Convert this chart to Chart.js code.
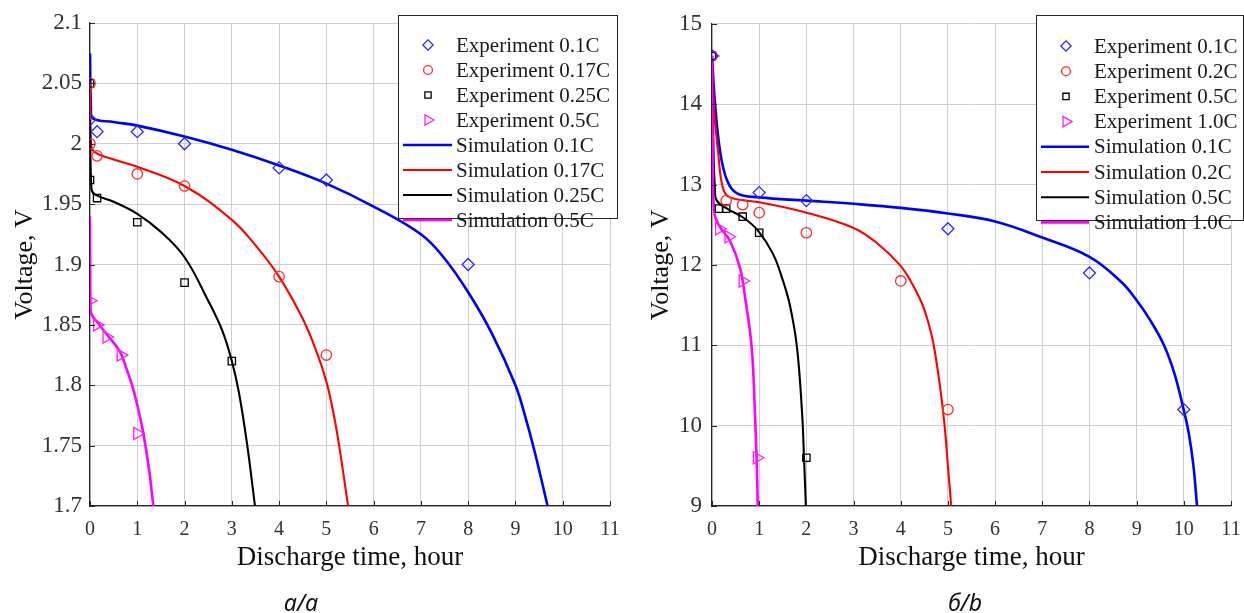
<!DOCTYPE html>
<html>
<head>
<meta charset="utf-8">
<script src="https://cdn.jsdelivr.net/npm/chart.js@4.4.1/dist/chart.umd.min.js"></script>
<style>
  body { margin: 0; background: #fff; }
  .panel { position: absolute; top: 0; width: 622px; height: 613px; }
</style>
</head>
<body>
<div class="panel" style="left:0"><canvas id="chartA" width="622" height="613"></canvas></div>
<div class="panel" style="left:622px"><canvas id="chartB" width="622" height="613"></canvas></div>
<script>
// ---- panel a: voltage vs discharge time ----
const labelsA = ['Experiment 0.1C', 'Experiment 0.17C', 'Experiment 0.25C', 'Experiment 0.5C',
                 'Simulation 0.1C', 'Simulation 0.17C', 'Simulation 0.25C', 'Simulation 0.5C']
const expA01 = [[0, 2.02], [0.15, 2.01], [1, 2.01], [2, 2.0], [4, 1.98], [5, 1.97], [8, 1.9]]
const expA017 = [[0, 2.05], [0, 2.0], [0.15, 1.99], [1, 1.975], [2, 1.965], [4, 1.89], [5, 1.825]]
const expA025 = [[0, 2.05], [0, 1.97], [0.15, 1.955], [1, 1.935], [2, 1.885], [3, 1.82]]
const expA05 = [[0, 1.87], [0.15, 1.85], [0.35, 1.84], [0.65, 1.825], [1, 1.76]]
const simA01 = [[0, 2.075], [0.02, 2.03], [0.06, 2.021], [0.5, 2.018], [1, 2.015], [2, 2.006], [3, 1.995],
                [4, 1.982], [5, 1.967], [6, 1.948], [7, 1.925], [7.5, 1.905], [8, 1.877], [8.5, 1.843],
                [9, 1.800], [9.2, 1.775], [9.4, 1.746], [9.68, 1.70]]
const simA017 = [[0, 2.05], [0.02, 2.0], [0.1, 1.993], [0.5, 1.987], [1, 1.981], [2, 1.965], [3, 1.937],
                 [3.5, 1.916], [4, 1.89], [4.5, 1.855], [4.8, 1.827], [5, 1.803], [5.15, 1.777],
                 [5.27, 1.75], [5.46, 1.70]]
const simA025 = [[0, 2.02], [0.03, 1.963], [0.1, 1.958], [0.5, 1.952], [1, 1.942], [1.5, 1.927], [2, 1.906],
                 [2.5, 1.87], [2.8, 1.845], [3, 1.82], [3.15, 1.794], [3.32, 1.752], [3.49, 1.70]]
const simA05 = [[0, 1.94], [0.01, 1.862], [0.2, 1.85], [0.4, 1.84], [0.63, 1.828], [0.77, 1.814],
                [0.92, 1.796], [1.05, 1.775], [1.13, 1.76], [1.25, 1.73], [1.34, 1.70]]

// ---- panel b ----
const labelsB = ['Experiment 0.1C', 'Experiment 0.2C', 'Experiment 0.5C', 'Experiment 1.0C',
                 'Simulation 0.1C', 'Simulation 0.2C', 'Simulation 0.5C', 'Simulation 1.0C']
const expB01 = [[0, 14.6], [1, 12.9], [2, 12.8], [5, 12.45], [8, 11.9], [10, 10.2]]
const expB02 = [[0, 14.6], [0.3, 12.8], [0.65, 12.75], [1, 12.65], [2, 12.4], [4, 11.8], [5, 10.2]]
const expB05 = [[0, 14.6], [0.15, 12.7], [0.3, 12.7], [0.65, 12.6], [1, 12.4], [2, 9.6]]
const expB10 = [[0, 14.6], [0.15, 12.45], [0.35, 12.35], [0.65, 11.8], [0.95, 9.6]]
const simB01 = [[0, 14.6], [0.06, 14.04], [0.17, 13.42], [0.32, 13.05], [0.53, 12.89], [1, 12.84], [2, 12.8],
                [3, 12.76], [4, 12.71], [5, 12.64], [6, 12.54], [7, 12.34], [8, 12.1], [8.67, 11.79],
                [9, 11.56], [9.3, 11.3], [9.58, 11.0], [9.8, 10.65], [10, 10.19], [10.1, 9.92],
                [10.2, 9.52], [10.28, 9.0]]
const simB02 = [[0, 14.6], [0.05, 13.9], [0.13, 13.4], [0.23, 12.96], [0.38, 12.84], [1, 12.78], [2, 12.65],
                [3, 12.46], [3.5, 12.27], [3.98, 12.0], [4.2, 11.81], [4.45, 11.52], [4.6, 11.25], [4.7, 11.0],
                [4.83, 10.5], [4.93, 10.0], [5.0, 9.5], [5.07, 9.0]]
const simB05 = [[0, 14.6], [0.03, 13.5], [0.06, 12.96], [0.1, 12.8], [0.32, 12.7], [0.66, 12.59], [0.97, 12.43],
                [1.29, 12.14], [1.5, 11.81], [1.65, 11.5], [1.8, 10.98], [1.91, 10.15], [1.95, 9.6], [1.99, 9.0]]
const simB10 = [[0, 14.6], [0.02, 13.3], [0.05, 12.65], [0.17, 12.47], [0.38, 12.3], [0.59, 11.97], [0.7, 11.6],
                [0.84, 10.98], [0.91, 10.15], [0.95, 9.5], [0.97, 9.0]]

const xTicks = [0, 1, 2, 3, 4, 5, 6, 7, 8, 9, 10, 11]

const lineColors = ['#0000ff', '#ff0000', '#000000', '#ff00ff']
const markColors = ['#2b2bff', '#ff2b2b', '#000000', '#ff1fff']
const markStyles = [
  { pointStyle: 'rectRot', pointRadius: 6, pointRotation: 0 },
  { pointStyle: 'circle', pointRadius: 5.2, pointRotation: 0 },
  { pointStyle: 'rect', pointRadius: 5.2, pointRotation: 0 },
  { pointStyle: 'triangle', pointRadius: 7, pointRotation: 90 }
]

const serif = "'Liberation Serif', 'Times New Roman', serif"

// draws the boxed legend, the inward ticks and the panel caption
const extras = {
  id: 'extras',
  afterDraw(chart, args, o) {
    const ctx = chart.ctx
    const {left, bottom} = chart.chartArea
    ctx.save()
    // inward tick marks
    ctx.strokeStyle = '#262626'
    ctx.lineWidth = 1
    chart.scales.x.ticks.forEach(t => {
      const px = Math.round(chart.scales.x.getPixelForValue(t.value)) + 0.5
      ctx.beginPath(); ctx.moveTo(px, bottom); ctx.lineTo(px, bottom - 5); ctx.stroke()
    })
    chart.scales.y.ticks.forEach(t => {
      const py = Math.round(chart.scales.y.getPixelForValue(t.value)) + 0.5
      ctx.beginPath(); ctx.moveTo(left, py); ctx.lineTo(left + 5, py); ctx.stroke()
    })
    // legend box
    ctx.fillStyle = '#fff'
    ctx.fillRect(o.x, o.y, o.w, o.h)
    ctx.strokeStyle = '#262626'
    ctx.strokeRect(o.x + 0.5, o.y + 0.5, o.w, o.h)
    ctx.font = '21px ' + serif
    ctx.textBaseline = 'middle'
    ctx.textAlign = 'left'
    chart.data.datasets.forEach((ds, i) => {
      const y = o.y + o.first + i * o.step
      if (ds.showLine === false) {
        ctx.strokeStyle = ds.borderColor
        ctx.fillStyle = 'rgba(0,0,0,0)'
        ctx.lineWidth = 1.3
        Chart.helpers.drawPoint(ctx, {
          pointStyle: ds.pointStyle, radius: ds.pointRadius * 0.85,
          rotation: ds.pointRotation, borderWidth: 1.3
        }, o.mark, y)
      } else {
        ctx.strokeStyle = ds.borderColor
        ctx.lineWidth = ds.borderWidth
        ctx.beginPath(); ctx.moveTo(o.lineFrom, y); ctx.lineTo(o.lineTo, y); ctx.stroke()
      }
      ctx.fillStyle = '#1a1a1a'
      ctx.fillText(ds.label, o.text, y + 1)
    })
    // caption
    ctx.font = 'italic 23px "Noto Sans", sans-serif'
    ctx.textAlign = 'center'
    ctx.textBaseline = 'alphabetic'
    ctx.fillStyle = '#111'
    ctx.fillText(o.caption, o.capX, 611)
    ctx.restore()
  }
}

function buildDatasets(labels, expSets, simSets) {
  const sets = []
  expSets.forEach((d, i) => {
    sets.push(Object.assign({
      label: labels[i], data: d, showLine: false,
      borderColor: markColors[i], backgroundColor: 'rgba(0,0,0,0)',
      pointBorderWidth: 1.3, order: 1
    }, markStyles[i]))
  })
  simSets.forEach((d, i) => {
    sets.push({
      label: labels[i + 4], data: d,
      borderColor: lineColors[i], borderWidth: i === 0 || i === 3 ? 2.6 : 2.1,
      pointRadius: 0, tension: 0.4, order: 2 - i * 0.1
    })
  })
  return sets
}

function makeChart(id, datasets, yMin, yMax, yStep, yTickPad, yTitlePad, padRight, legendOpts) {
  return new Chart(document.getElementById(id), {
    type: 'line',
    data: { datasets: datasets },
    options: {
      responsive: false,
      devicePixelRatio: 1,
      animation: false,
      events: [],
      layout: { padding: { top: 23, right: padRight, bottom: 0, left: 0 } },
      plugins: { legend: { display: false }, tooltip: { enabled: false }, extras: legendOpts },
      scales: {
        x: {
          type: 'linear', min: 0, max: 11,
          afterBuildTicks: s => { s.ticks = xTicks.map(v => ({ value: v })) },
          afterFit: s => { s.height = 107; s.paddingLeft = 0; s.paddingRight = 0 },
          ticks: { font: { family: serif, size: 20 }, color: '#333', padding: 12 },
          grid: { color: '#cfcfcf', drawTicks: false },
          border: { color: '#262626', width: 1.2 },
          title: { display: true, text: 'Discharge time, hour', color: '#111',
                   font: { family: serif, size: 27 }, padding: { top: 0, bottom: 39 } }
        },
        y: {
          min: yMin, max: yMax,
          afterFit: s => { s.width = 90 },
          ticks: { stepSize: yStep, font: { family: serif, size: 23 }, color: '#333', padding: yTickPad,
                   callback: v => String(Number(v.toFixed(2))) },
          grid: { color: '#cfcfcf', drawTicks: false },
          border: { color: '#262626', width: 1.2 },
          title: { display: true, text: 'Voltage, V', color: '#111',
                   font: { family: serif, size: 26 }, padding: { top: yTitlePad, bottom: 0 } }
        }
      }
    },
    plugins: [extras]
  })
}

makeChart('chartA', buildDatasets(labelsA, [expA01, expA017, expA025, expA05], [simA01, simA017, simA025, simA05]),
  1.7, 2.1, 0.05, 8, 10, 12,
  { x: 398, y: 15, w: 219, h: 203, first: 30, step: 25, mark: 428, lineFrom: 403, lineTo: 452, text: 456,
    caption: 'a/a', capX: 301 })

makeChart('chartB', buildDatasets(labelsB, [expB01, expB02, expB05, expB10], [simB01, simB02, simB05, simB10]),
  9, 15, 1, 10, 24, 13,
  { x: 414, y: 15, w: 207, h: 205, first: 31, step: 25.2, mark: 444, lineFrom: 419, lineTo: 467, text: 472,
    caption: 'б/b', capX: 343 })
</script>
</body>
</html>
